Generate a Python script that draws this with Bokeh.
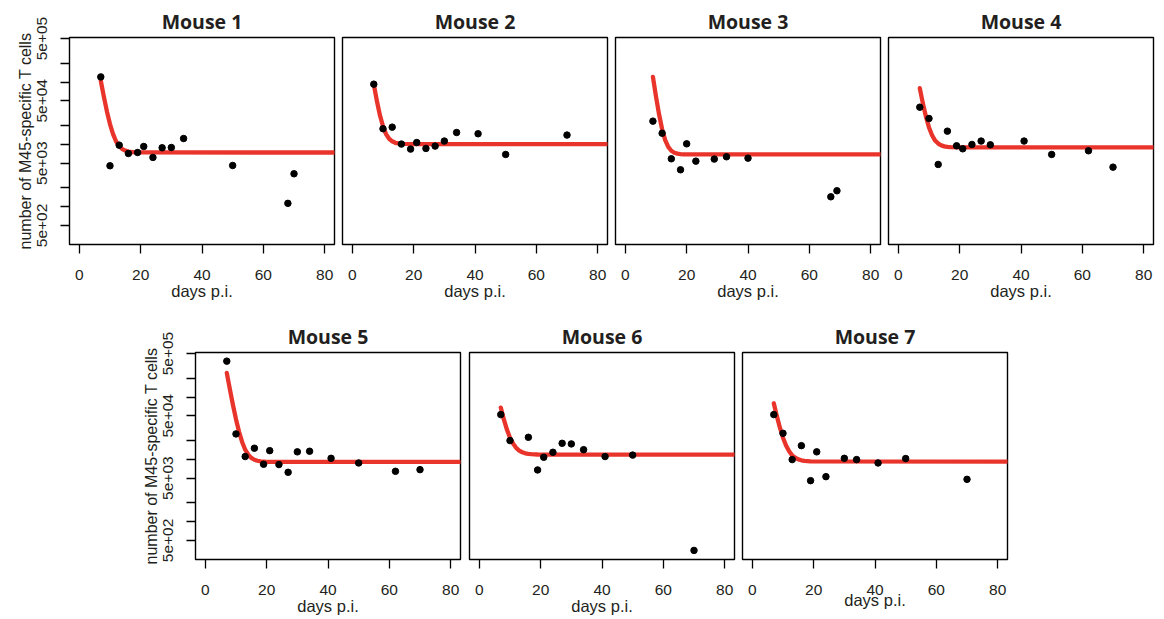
from bokeh.plotting import figure
from bokeh.layouts import column, row
from bokeh.models import Range1d, FixedTicker, Spacer
from bokeh.embed import file_html
from bokeh.resources import INLINE

# ---------------- data ----------------
mouse_names = ["Mouse 1", "Mouse 2", "Mouse 3", "Mouse 4", "Mouse 5", "Mouse 6", "Mouse 7"]

m1_days = [7, 10, 13, 16, 19, 21, 24, 27, 30, 34, 50, 68, 70]
m1_cells = [121000, 4530, 9720, 7140, 7400, 9250, 6170, 8810, 8900, 12400, 4580, 1130, 3370]
m1_fit_days = [7, 8, 9, 10, 11, 12, 13, 14, 15, 16, 17, 20, 85]
m1_fit_cells = [105000, 58200, 33800, 21200, 14600, 11100, 9340, 8410, 7930, 7670, 7540, 7420, 7400]

m2_days = [7, 10, 13, 16, 19, 21, 24, 27, 30, 34, 41, 50, 70]
m2_cells = [92500, 17800, 18900, 10100, 8390, 10700, 8600, 9370, 11300, 15500, 14800, 6890, 14100]
m2_fit_days = [7, 8, 9, 10, 11, 12, 13, 14, 15, 16, 17, 20, 85]
m2_fit_cells = [92500, 50000, 29400, 19500, 14600, 12300, 11200, 10600, 10350, 10220, 10160, 10110, 10100]

m3_days = [9, 12, 15, 18, 20, 23, 29, 33, 40, 67, 69]
m3_cells = [23600, 15100, 5870, 3910, 10200, 5380, 5800, 6320, 6010, 1440, 1800]
m3_fit_days = [9, 10, 11, 12, 13, 14, 15, 16, 17, 18, 19, 22, 85]
m3_fit_cells = [121000, 58600, 30400, 17500, 11700, 9080, 7890, 7340, 7100, 6980, 6930, 6900, 6890]

m4_days = [7, 10, 13, 16, 19, 21, 24, 27, 30, 41, 50, 62, 70]
m4_cells = [39500, 26000, 4760, 16300, 9480, 8490, 9960, 11300, 9840, 11300, 6890, 7890, 4310]
m4_fit_days = [7, 8, 9, 10, 11, 12, 13, 14, 15, 16, 17, 20, 85]
m4_fit_cells = [79800, 45600, 27900, 18700, 14000, 11500, 10300, 9620, 9280, 9110, 9020, 8930, 8920]

m5_days = [7, 10, 13, 16, 19, 21, 24, 27, 30, 34, 41, 50, 62, 70]
m5_cells = [377000, 25600, 11100, 15100, 8340, 13800, 8250, 6200, 13200, 13500, 10400, 8750, 6430, 6840]
m5_fit_days = [7, 8, 9, 10, 11, 12, 13, 14, 15, 16, 17, 18, 20, 85]
m5_fit_cells = [244000, 133800, 75200, 44200, 27700, 19000, 14300, 11900, 10550, 9860, 9500, 9300, 9140, 9080]

m6_days = [7, 10, 16, 19, 21, 24, 27, 30, 34, 41, 50, 70]
m6_cells = [52300, 20000, 22600, 6760, 10800, 13000, 18100, 17700, 14300, 11100, 11700, 346]
m6_fit_days = [7, 8, 9, 10, 11, 12, 13, 14, 15, 16, 17, 19, 85]
m6_fit_cells = [67800, 43800, 30100, 22300, 17900, 15300, 13800, 13000, 12500, 12260, 12110, 11970, 11900]

m7_days = [7, 10, 13, 16, 19, 21, 24, 30, 34, 41, 50, 70]
m7_cells = [52300, 26200, 9910, 16600, 4550, 13200, 5280, 10400, 9910, 8750, 10300, 4780]
m7_fit_days = [7, 8, 9, 10, 11, 12, 13, 14, 15, 16, 17, 19, 85]
m7_fit_cells = [79600, 49400, 32200, 22300, 16700, 13500, 11600, 10600, 10000, 9660, 9460, 9280, 9200]

x_ticks = [0, 20, 40, 60, 80]
y_ticks = [500, 1000, 2000, 5000, 10000, 20000, 50000, 100000, 200000, 500000]
y_tick_labels = ["5e+02", "", "", "5e+03", "", "", "5e+04", "", "", "5e+05"]

x_label = "days p.i."
y_label = "number of M45-specific T cells"

# ---------------- styling ----------------
TXT = "#231f20"
RED = "#e9342b"
FONT = "Liberation Sans"


def make_panel(name, days, cells, fit_days, fit_cells, show_y, left, right, top, bottom,
               xlab_standoff=-1):
    p = figure(frame_width=265, frame_height=207,
               x_range=Range1d(-3.2, 83.2), y_range=Range1d(247, 519000),
               y_axis_type="log", output_backend="svg", toolbar_location=None,
               min_border_left=left, min_border_right=right,
               min_border_top=top, min_border_bottom=bottom, title=name)
    p.title.text_font = "Open Sans"
    p.title.text_font_style = "bold"
    p.title.text_font_size = "19.5px"
    p.title.text_color = TXT
    p.title.align = "center"
    p.title.standoff = 5

    p.outline_line_color = "black"
    p.outline_line_width = 1.4
    p.outline_line_alpha = 1.0
    p.xgrid.visible = False
    p.ygrid.visible = False
    p.background_fill_color = "white"
    p.border_fill_color = "white"

    xa = p.xaxis[0]
    xa.ticker = FixedTicker(ticks=x_ticks)
    xa.axis_line_color = None
    xa.major_tick_out = 9
    xa.major_tick_in = 0
    xa.minor_tick_out = 0
    xa.minor_tick_in = 0
    xa.major_tick_line_width = 1.3
    xa.major_tick_line_color = "black"
    xa.major_label_text_font = FONT
    xa.major_label_text_font_size = "15.5px"
    xa.major_label_text_color = TXT
    xa.major_label_standoff = 16
    xa.axis_label = x_label
    xa.axis_label_text_font = FONT
    xa.axis_label_text_font_size = "16.5px"
    xa.axis_label_text_font_style = "normal"
    xa.axis_label_text_color = TXT
    xa.axis_label_standoff = xlab_standoff

    ya = p.yaxis[0]
    if show_y:
        ya.ticker = FixedTicker(ticks=y_ticks)
        ya.major_label_overrides = {float(t): lab for t, lab in zip(y_ticks, y_tick_labels)}
        ya.axis_line_color = None
        ya.major_tick_out = 9
        ya.major_tick_in = 0
        ya.minor_tick_out = 0
        ya.minor_tick_in = 0
        ya.major_tick_line_width = 1.3
        ya.major_tick_line_color = "black"
        ya.major_label_orientation = "parallel"
        ya.major_label_text_font = FONT
        ya.major_label_text_font_size = "15.5px"
        ya.major_label_text_color = TXT
        ya.major_label_standoff = 13
        ya.axis_label = y_label
        ya.axis_label_text_font = FONT
        ya.axis_label_text_font_size = "16px"
        ya.axis_label_text_font_style = "normal"
        ya.axis_label_text_color = TXT
        ya.axis_label_standoff = 1
    else:
        ya.visible = False

    p.line(fit_days, fit_cells, line_color=RED, line_width=4.3, line_cap="round", line_join="round")
    p.scatter(days, cells, size=6.5, fill_color="black", line_color="black")
    return p


f1 = make_panel(mouse_names[0], m1_days, m1_cells, m1_fit_days, m1_fit_cells, True, 69, 4, 37, 64)
f2 = make_panel(mouse_names[1], m2_days, m2_cells, m2_fit_days, m2_fit_cells, False, 4, 4, 37, 64)
f3 = make_panel(mouse_names[2], m3_days, m3_cells, m3_fit_days, m3_fit_cells, False, 4, 4, 37, 64)
f4 = make_panel(mouse_names[3], m4_days, m4_cells, m4_fit_days, m4_fit_cells, False, 4, 4, 37, 64)

f5 = make_panel(mouse_names[4], m5_days, m5_cells, m5_fit_days, m5_fit_cells, True, 69, 4, 44, 60)
f6 = make_panel(mouse_names[5], m6_days, m6_cells, m6_fit_days, m6_fit_cells, False, 5, 4, 44, 60)
f7 = make_panel(mouse_names[6], m7_days, m7_cells, m7_fit_days, m7_fit_cells, False, 4, 4, 44, 60,
                xlab_standoff=-7)

top_row = row(f1, f2, f3, f4, spacing=0)
bottom_row = row(Spacer(width=126, height=311), f5, f6, f7, spacing=0)
layout = column(top_row, bottom_row, spacing=0)

open("out.html", "w").write(file_html(layout, INLINE))
